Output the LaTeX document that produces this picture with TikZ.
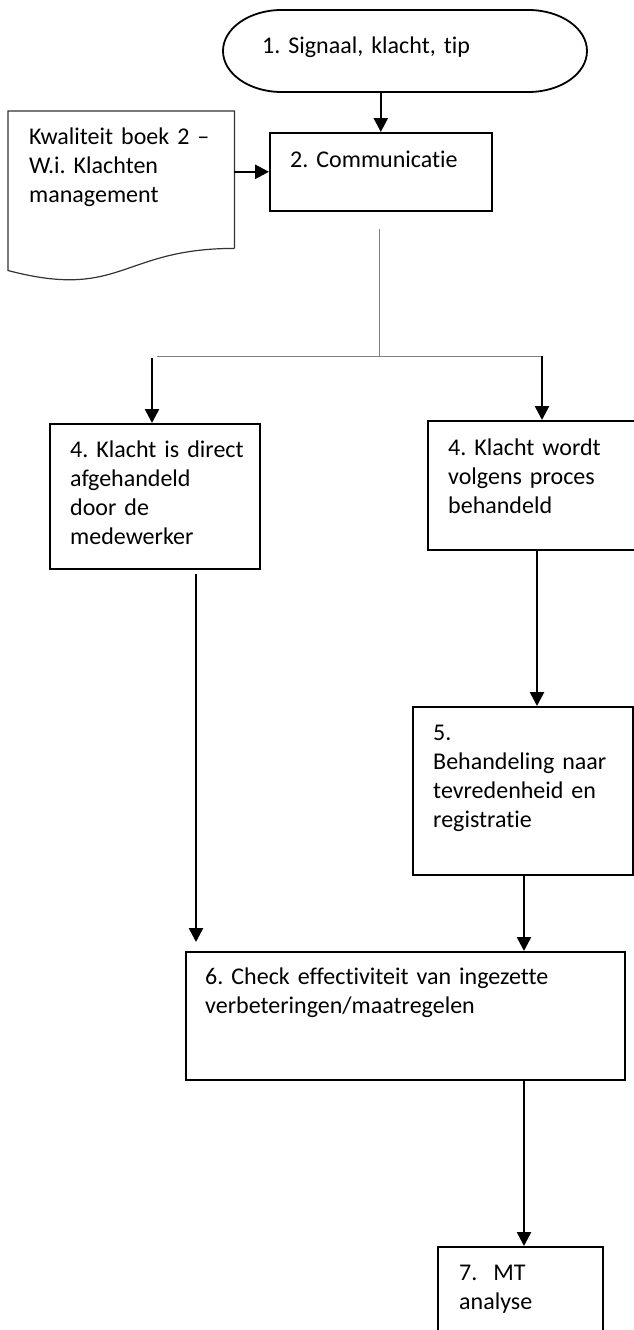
\documentclass[tikz,border=0pt]{standalone}
\usepackage{fontspec}
\setmainfont{Carlito}[Ligatures={NoCommon}]
\usetikzlibrary{arrows.meta,calc}
\begin{document}
\frenchspacing
\begin{tikzpicture}[x=1pt,y=-1pt,
  box/.style={draw,line width=1.6pt,inner sep=0pt,anchor=north west},
  shapebox/.style={inner sep=0pt},
  txt/.style={inner sep=0pt,anchor=base west,align=left,text width=400pt,font=\fontsize{24}{29.3}\selectfont\frenchspacing},
  arr/.style={line width=2.6pt,-{Triangle[length=14pt,width=14pt]}},
  thinline/.style={draw=black!50,line width=1pt}]
\useasboundingbox (0,0) rectangle (633,1330);

% terminator
\node[shapebox,minimum width=364pt,minimum height=82pt] (t1) at (405,51) {};
\draw[line width=1.8pt] (281.6,10) -- (528.4,10)
  .. controls (560.8,10) and (587,28.4) .. (587,51)
  .. controls (587,73.6) and (560.8,92) .. (528.4,92)
  -- (281.6,92)
  .. controls (249.2,92) and (223,73.6) .. (223,51)
  .. controls (223,28.4) and (249.2,10) .. (281.6,10) -- cycle;

% document shape
\node[shapebox,minimum width=226pt,minimum height=137pt,anchor=north west] (doc) at (8,111) {};
\draw[line width=1.2pt,draw=black!80] (doc.south east) -- (doc.north east) -- (doc.north west)
  -- ($(doc.north west)+(0,159.5)$)
  .. controls ($(doc.south)+(0,52)$) and (doc.south) .. (doc.south east);

% boxes
\node[box,minimum width=222pt,minimum height=78pt] (b2) at (269,132) {};
\node[box,minimum width=210pt,minimum height=145pt] (b4l) at (49,423) {};
\node[box,minimum width=215pt,minimum height=129pt] (b4r) at (427,420) {};
\node[box,minimum width=220pt,minimum height=168pt] (b5) at (412,706) {};
\node[box,minimum width=439pt,minimum height=128pt] (b6) at (185,951) {};
\node[box,minimum width=165pt,minimum height=94pt] (b7) at (437,1246) {};

% texts
\node[txt] (l1) at (262,53) {1. Signaal, klacht, tip};
\node[txt] (l2) at (290,167) {2. Communicatie};
\node[txt] (ld) at (29,144) {Kwaliteit boek 2 –\\W.i. Klachten\\management};
\node[txt] (l4a) at (70,457) {4. Klacht is direct\\afgehandeld\\door de\\medewerker};
\node[txt] (l4b) at (448,455) {4. Klacht wordt\\volgens proces\\behandeld};
\node[txt] (l5) at (433,740) {5.\\Behandeling naar\\tevredenheid en\\registratie};
\node[txt] (l6) at (205,984) {6. Check effectiviteit van ingezette\\verbeteringen/maatregelen};
\node[txt] (l7) at (459,1280) {7.\ \ MT\\analyse};

% connectors
\draw[arr] (b2.north |- t1.south) -- (b2.north);
\draw[arr] (doc.east |- b2.west) -- (b2.west);

\coordinate (g0) at (379,229);
\coordinate (gs) at (379,356);
\coordinate (gl) at (157,356);
\coordinate (gr) at (542,356);
\coordinate (al) at (152,358);
\draw[thinline] (g0) -- (gs);
\draw[thinline] (gl) -- (gr);
\draw[arr] (al) -- (al |- b4l.north);
\draw[arr] (gr) -- (gr |- b4r.north);

\coordinate (a4l) at (196,574);
\coordinate (a6l) at (196,942);
\draw[arr] (a4l) -- (a6l);

\coordinate (c45) at (537,549);
\draw[arr] (c45) -- (c45 |- b5.north);

\coordinate (c56) at (524,874);
\draw[arr] (c56) -- (c56 |- b6.north);
\draw[arr] (c56 |- b6.south) -- (c56 |- b7.north);
\end{tikzpicture}
\end{document}
